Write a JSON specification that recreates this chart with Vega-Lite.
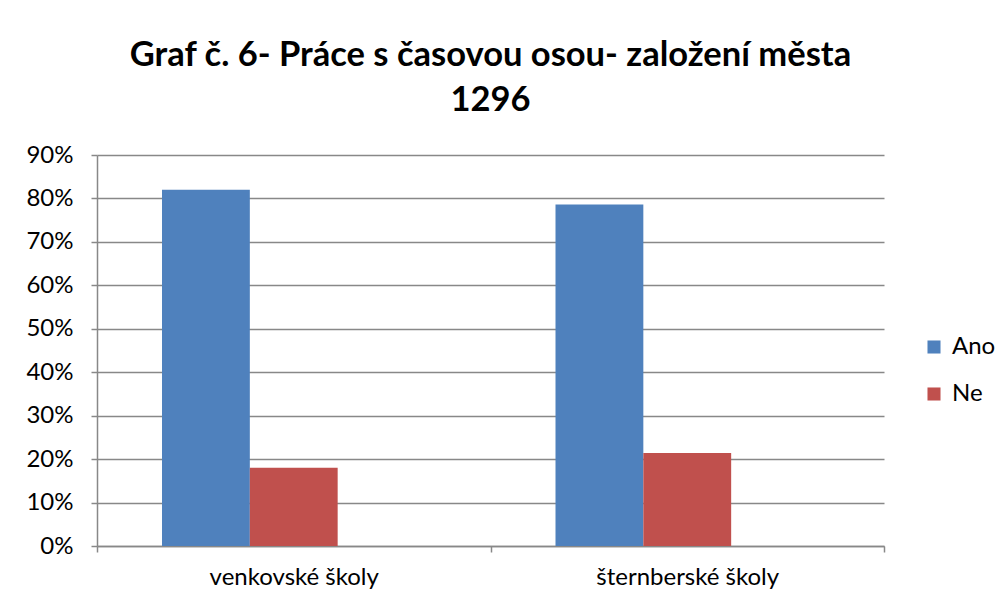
{
  "$schema": "https://vega.github.io/schema/vega-lite/v6.json",
  "width": 787,
  "height": 391,
  "autosize": {"type": "none"},
  "padding": {"left": 97, "top": 155, "right": 121, "bottom": 61},
  "background": "white",
  "title": {
    "text": ["Graf č. 6- Práce s časovou osou- založení města", "1296"],
    "font": "Lato",
    "fontSize": 34.5,
    "fontWeight": "bold",
    "color": "black",
    "anchor": "middle",
    "offset": 25,
    "lineHeight": 45
  },
  "data": {
    "values": [
      {"skola": "venkovské školy", "odpoved": "Ano", "podil": 0.82},
      {"skola": "venkovské školy", "odpoved": "Ne", "podil": 0.18},
      {"skola": "šternberské školy", "odpoved": "Ano", "podil": 0.786},
      {"skola": "šternberské školy", "odpoved": "Ne", "podil": 0.214}
    ]
  },
  "mark": {"type": "bar"},
  "encoding": {
    "x": {
      "field": "skola",
      "type": "nominal",
      "sort": ["venkovské školy", "šternberské školy"],
      "scale": {"paddingInner": 0, "paddingOuter": 0},
      "axis": {
        "title": null,
        "labelAngle": 0,
        "labelFont": "Lato",
        "labelFontSize": 24,
        "labelColor": "black",
        "labelPadding": 13,
        "labelLimit": 400,
        "domainColor": "#888888",
        "domainWidth": 1.5,
        "tickColor": "#888888",
        "tickWidth": 1.5,
        "tickSize": 6,
        "tickBand": "extent",
        "grid": false
      }
    },
    "xOffset": {
      "field": "odpoved",
      "type": "nominal",
      "scale": {"domain": ["Ano", "Ne", "-"], "paddingInner": 0, "paddingOuter": 0.74}
    },
    "y": {
      "field": "podil",
      "type": "quantitative",
      "scale": {"domain": [0, 0.9], "nice": false},
      "axis": {
        "title": null,
        "format": ".0%",
        "values": [0, 0.1, 0.2, 0.3, 0.4, 0.5, 0.6, 0.7, 0.8, 0.9],
        "labelFont": "Lato",
        "labelFontSize": 24,
        "labelColor": "black",
        "labelPadding": 18,
        "domainColor": "#888888",
        "domainWidth": 1.5,
        "tickColor": "#888888",
        "tickWidth": 1.5,
        "tickSize": 6,
        "grid": true,
        "gridColor": "#888888",
        "gridWidth": 1.5
      }
    },
    "color": {
      "field": "odpoved",
      "type": "nominal",
      "scale": {"domain": ["Ano", "Ne"], "range": ["#4F81BD", "#C0504D"]},
      "legend": {
        "title": null,
        "orient": "none",
        "legendX": 825,
        "legendY": 180,
        "symbolType": "square",
        "symbolSize": 170,
        "symbolStrokeWidth": 0,
        "labelFont": "Lato",
        "labelFontSize": 24,
        "labelColor": "black",
        "rowPadding": 23,
        "labelOffset": 6
      }
    }
  },
  "config": {
    "view": {"stroke": null}
  }
}
